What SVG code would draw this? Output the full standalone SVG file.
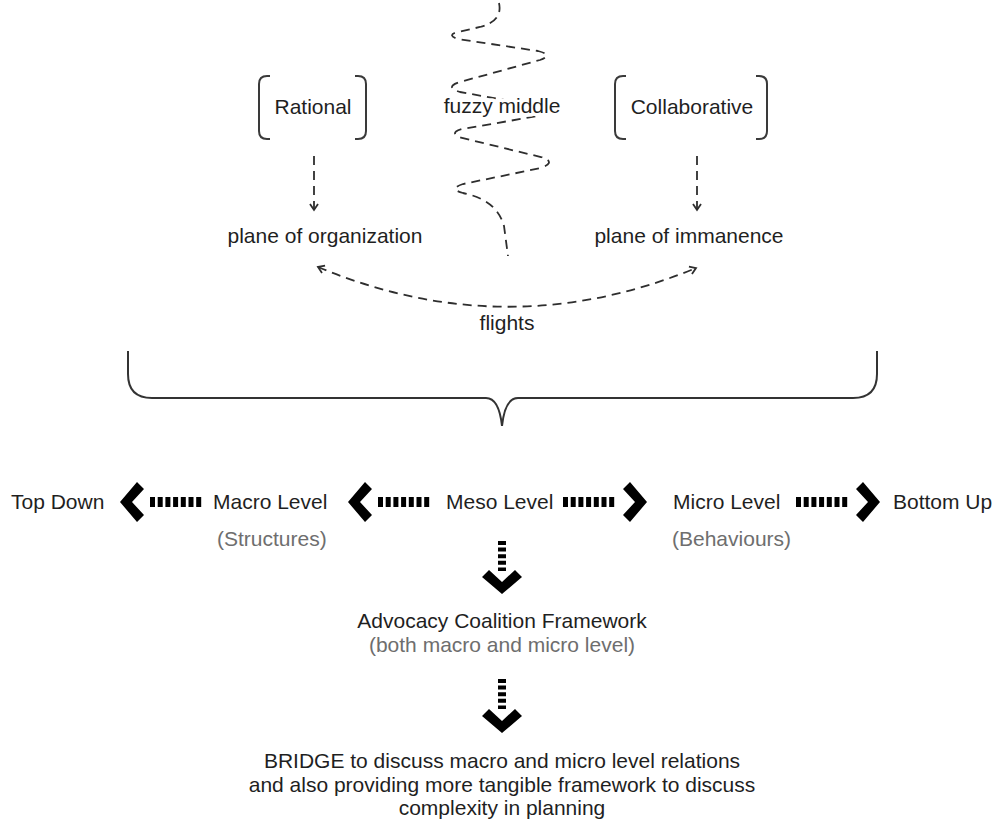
<svg xmlns="http://www.w3.org/2000/svg" width="998" height="823" viewBox="0 0 998 823">
  <style>
    text { font-family: "Liberation Sans", Arial, sans-serif; font-size: 21px; fill: #1f1f1f; }
    .mid { text-anchor: middle; }
    .sub { fill: #6e6e6e; }
    .halo { stroke: #ffffff; stroke-width: 7px; stroke-linejoin: round; paint-order: stroke; }
    .dash { fill: none; stroke: #2e2e2e; stroke-width: 1.8; stroke-dasharray: 9 6; }
    .line { fill: none; stroke: #333333; stroke-width: 2; }
    .bracket { fill: none; stroke: #3a3a3a; stroke-width: 2; }
    .hbar { stroke: #000000; stroke-width: 10; stroke-dasharray: 5 2.7; }
    .vbar { stroke: #000000; stroke-width: 8; stroke-dasharray: 4 2.6; }
    .chev { fill: #000000; }
  </style>
  <defs>
    <marker id="open" viewBox="0 0 10 10" refX="8" refY="5" markerWidth="10" markerHeight="10" markerUnits="userSpaceOnUse" orient="auto-start-reverse">
      <path d="M 2 1 L 8 5 L 2 9" fill="none" stroke="#2e2e2e" stroke-width="1.8"/>
    </marker>
    <!-- thick chevron pointing right, tip at origin -->
    <polygon id="chev" points="0,0 -17,-20 -24,-13 -12,0 -24,13 -17,20"/>
  </defs>

  <!-- connectors -->
  <g id="connectors">
    <path id="zigzag" class="dash" d="M 499 3 Q 503 21 480 27 L 458 32 Q 446 35 458 39 L 538 51 Q 554 55 540 60 L 460 82 Q 444 87 460 92 L 538 106 Q 555 111 538 116 L 462 129 Q 448 133 462 138 L 541 157 Q 557 162 541 168 L 463 184 Q 448 189 463 193 Q 497 200 504 226 L 508 256"/>
    <line class="dash" x1="314" y1="156" x2="314" y2="210" marker-end="url(#open)"/>
    <line class="dash" x1="697" y1="156" x2="697" y2="210" marker-end="url(#open)"/>
    <path id="flights-arc" class="dash" d="M 318 267 Q 507 346 696 268" marker-start="url(#open)" marker-end="url(#open)"/>
    <path id="brace" class="line" d="M 128 351 L 128 374 Q 128 398 152 398 L 486 398 Q 499 398 502 426 Q 505 398 518 398 L 853 398 Q 877 398 877 374 L 877 351"/>

    <!-- level arrows -->
    <g id="arrow-topdown">
      <line class="hbar" x1="150" y1="502" x2="202" y2="502"/>
      <use href="#chev" class="chev" transform="translate(120 502) scale(-1 1)"/>
    </g>
    <g id="arrow-macro">
      <line class="hbar" x1="378" y1="502" x2="430" y2="502"/>
      <use href="#chev" class="chev" transform="translate(348 502) scale(-1 1)"/>
    </g>
    <g id="arrow-micro">
      <line class="hbar" x1="563" y1="502" x2="615" y2="502"/>
      <use href="#chev" class="chev" transform="translate(647 502)"/>
    </g>
    <g id="arrow-bottomup">
      <line class="hbar" x1="796" y1="502" x2="848" y2="502"/>
      <use href="#chev" class="chev" transform="translate(880 502)"/>
    </g>
    <g id="arrow-down-1">
      <line class="vbar" x1="502" y1="541" x2="502" y2="571"/>
      <use href="#chev" class="chev" transform="translate(502 594) rotate(90)"/>
    </g>
    <g id="arrow-down-2">
      <line class="vbar" x1="502" y1="679" x2="502" y2="709"/>
      <use href="#chev" class="chev" transform="translate(502 733) rotate(90)"/>
    </g>
  </g>

  <!-- nodes -->
  <g id="rational">
    <path class="bracket" d="M 270 76 L 267 76 Q 259 76 259 84 L 259 131 Q 259 139 267 139 L 270 139"/>
    <path class="bracket" d="M 355 76 L 358 76 Q 366 76 366 84 L 366 131 Q 366 139 358 139 L 355 139"/>
    <text class="mid" x="313" y="114">Rational</text>
  </g>
  <g id="collaborative">
    <path class="bracket" d="M 626 76 L 623 76 Q 615 76 615 84 L 615 131 Q 615 139 623 139 L 626 139"/>
    <path class="bracket" d="M 756 76 L 759 76 Q 767 76 767 84 L 767 131 Q 767 139 759 139 L 756 139"/>
    <text class="mid" x="692" y="114">Collaborative</text>
  </g>
  <g id="fuzzy-middle">
    <text class="mid halo" x="502" y="113">fuzzy middle</text>
  </g>
  <g id="plane-organization">
    <text class="mid" x="325" y="243">plane of organization</text>
  </g>
  <g id="plane-immanence">
    <text class="mid" x="689" y="243">plane of immanence</text>
  </g>
  <g id="flights">
    <text class="mid" x="507" y="330">flights</text>
  </g>

  <g id="top-down"><text x="11" y="509">Top Down</text></g>
  <g id="macro-level">
    <text x="213" y="509">Macro Level</text>
    <text class="sub" x="217" y="546">(Structures)</text>
  </g>
  <g id="meso-level"><text x="446" y="509">Meso Level</text></g>
  <g id="micro-level">
    <text x="673" y="509">Micro Level</text>
    <text class="sub" x="672" y="546">(Behaviours)</text>
  </g>
  <g id="bottom-up"><text x="893" y="509">Bottom Up</text></g>

  <g id="acf">
    <text class="mid" x="502" y="628">Advocacy Coalition Framework</text>
    <text class="mid sub" x="502" y="652">(both macro and micro level)</text>
  </g>
  <g id="bridge">
    <text class="mid" x="502" y="768">BRIDGE to discuss macro and micro level relations</text>
    <text class="mid" x="502" y="792">and also providing more tangible framework to discuss</text>
    <text class="mid" x="502" y="815">complexity in planning</text>
  </g>
</svg>
